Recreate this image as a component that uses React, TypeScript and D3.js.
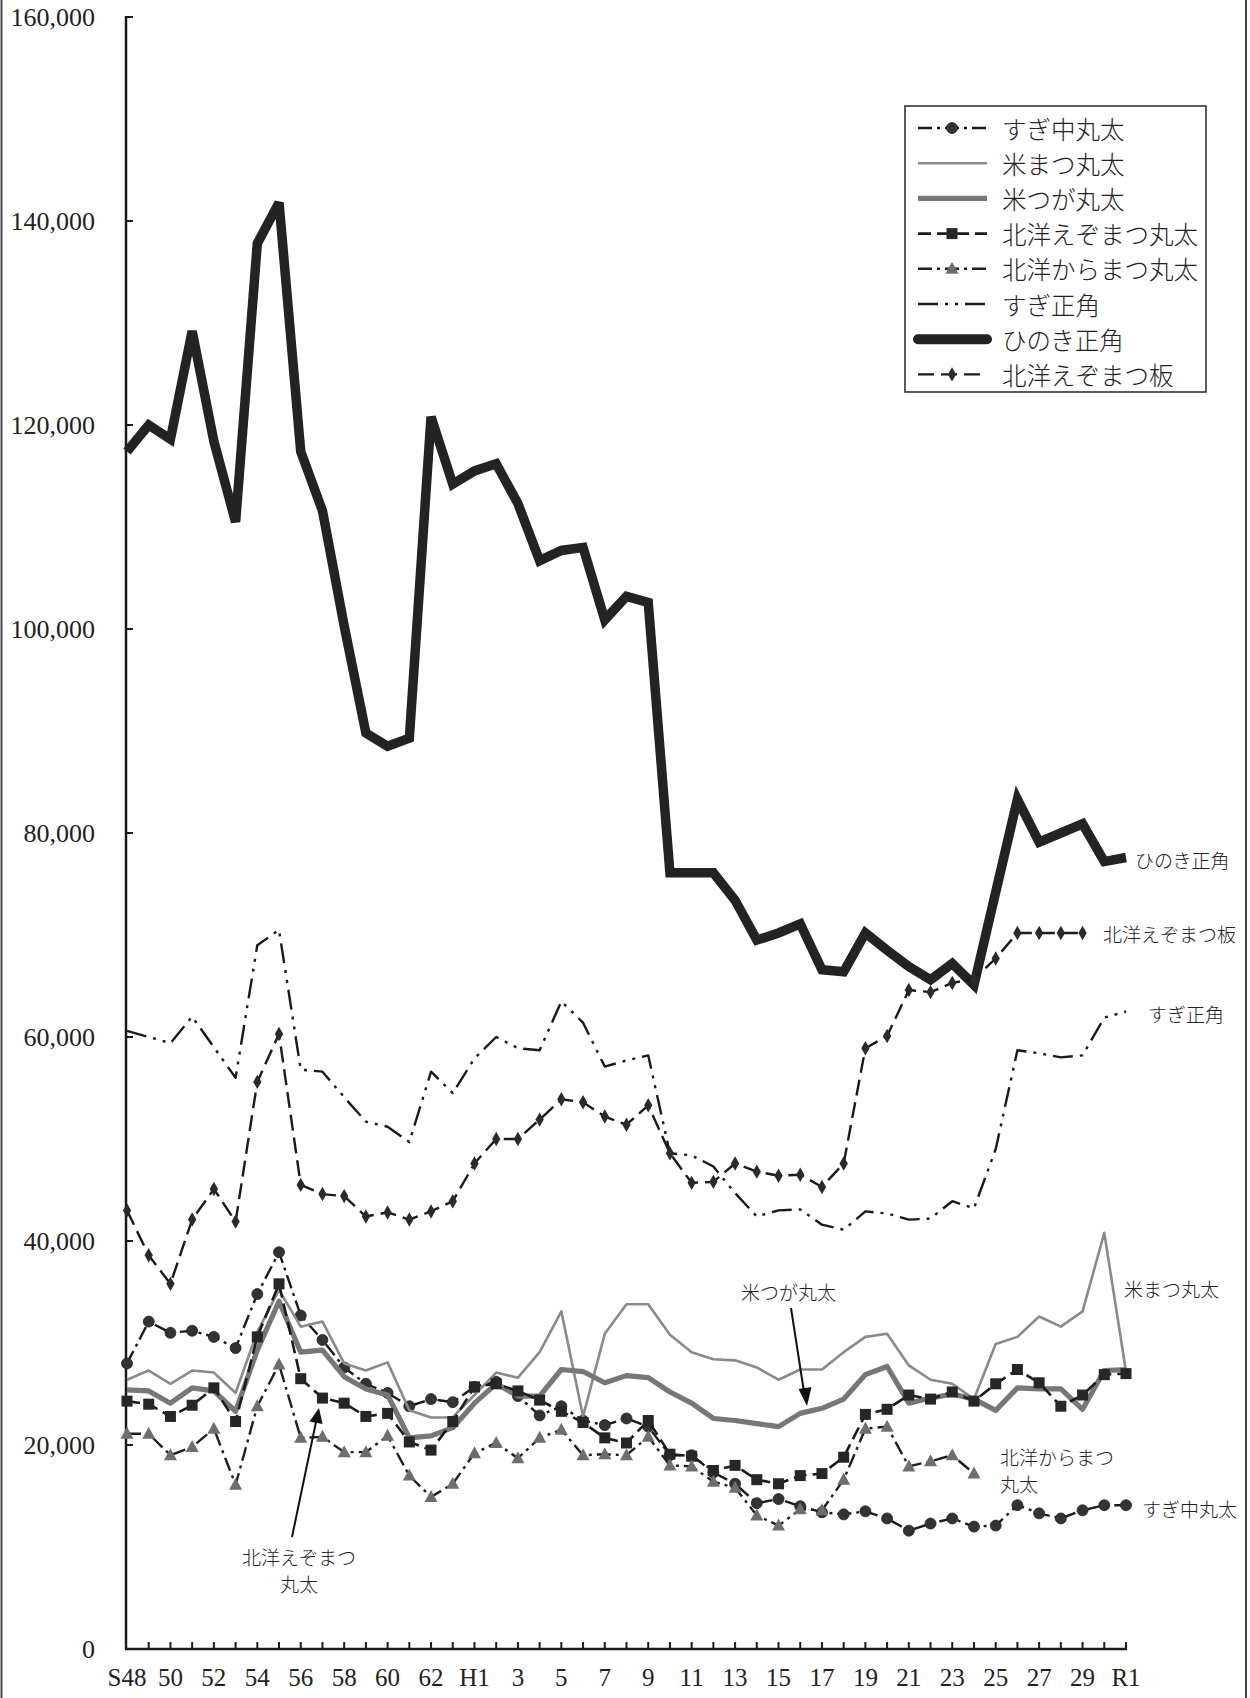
import React from 'react';
import * as d3 from 'd3';

// ---- categories (S48 = 1973 ... R1 = 2019) ----
const years: string[] = [
  'S48','S49','S50','S51','S52','S53','S54','S55','S56','S57','S58','S59','S60','S61','S62','S63',
  'H1','H2','H3','H4','H5','H6','H7','H8','H9','H10','H11','H12','H13','H14','H15','H16','H17','H18','H19','H20',
  'H21','H22','H23','H24','H25','H26','H27','H28','H29','H30','R1'
];
const tickLabels: string[] = ['S48','50','52','54','56','58','60','62','H1','3','5','7','9','11','13','15','17','19','21','23','25','27','29','R1'];
const yTicks: number[] = [0, 20000, 40000, 60000, 80000, 100000, 120000, 140000, 160000];

// ---- series values (円/m3) ----
const sugiMaru: (number | null)[] = [28000, 32100, 31000, 31200, 30600, 29500, 34800, 38900, 32700, 30300, 27600, 26000, 25100, 23800, 24500, 24200, 25700, 26200, 24800, 22900, 23800, 22400, 21950, 22600, 21800, 19000, 19000, 17300, 16200, 14300, 14700, 14000, 13400, 13200, 13500, 12800, 11600, 12300, 12800, 12000, 12100, 14100, 13300, 12800, 13600, 14100, 14100];
const beiMatsu: (number | null)[] = [26400, 27300, 26000, 27300, 27100, 25100, 31100, 35200, 31600, 32100, 28000, 27300, 28100, 23400, 22700, 22700, 24900, 27100, 26600, 29100, 33100, 22800, 30900, 33800, 33800, 30800, 29100, 28400, 28300, 27600, 26400, 27400, 27400, 29100, 30600, 30900, 27800, 26400, 26000, 24500, 29900, 30600, 32600, 31600, 33100, 40800, 27200];
const beiTsuga: (number | null)[] = [25400, 25300, 24100, 25600, 25300, 23300, 29300, 34100, 29100, 29300, 26700, 25500, 24900, 20700, 20900, 21700, 24100, 26000, 24800, 24800, 27400, 27200, 26100, 26800, 26600, 25200, 24100, 22600, 22400, 22100, 21800, 23100, 23600, 24500, 26900, 27700, 24100, 24600, 25000, 24500, 23400, 25600, 25500, 25500, 23500, 27300, 27400];
const ezoMaru: (number | null)[] = [24300, 24000, 22800, 23900, 25600, 22300, 30600, 35800, 26500, 24600, 24100, 22800, 23100, 20300, 19500, 22300, 25700, 26000, 25300, 24400, 23300, 22200, 20700, 20200, 22400, 19100, 18900, 17500, 18000, 16600, 16200, 17000, 17200, 18800, 23000, 23500, 24900, 24500, 25200, 24300, 26000, 27400, 26100, 23800, 24900, 26900, 27000];
const karaMaru: (number | null)[] = [21100, 21100, 19000, 19800, 21600, 16100, 23800, 27900, 20700, 20800, 19300, 19300, 20900, 17000, 14900, 16200, 19200, 20200, 18700, 20700, 21500, 19000, 19100, 19000, 20800, 18000, 17900, 16400, 15800, 13100, 12100, 13700, 13600, 16600, 21600, 21800, 17900, 18400, 19000, 17200, null, null, null, null, null, null, null];
const sugiKaku: (number | null)[] = [60600, 60000, 59400, 62000, 59000, 56000, 69000, 70500, 56800, 56600, 54100, 51700, 51200, 49700, 56600, 54500, 57900, 60000, 58900, 58700, 63500, 61400, 57100, 57700, 58200, 48600, 48400, 47300, 44700, 42400, 43000, 43100, 41600, 41100, 42900, 42700, 42100, 42200, 43900, 43200, 49000, 58700, 58400, 58000, 58200, 61900, 62500];
const hinokiKaku: (number | null)[] = [117400, 120000, 118600, 129200, 118400, 110500, 137800, 141800, 117400, 111600, 100300, 89800, 88500, 89300, 120800, 114200, 115500, 116200, 112300, 106700, 107700, 108000, 100900, 103200, 102600, 76100, 76100, 76100, 73400, 69500, 70200, 71100, 66600, 66400, 70200, 68500, 66900, 65600, 67200, 65100, 74200, 83300, 79100, 80000, 80900, 77200, 77600];
const ezoIta: (number | null)[] = [43000, 38600, 35800, 42100, 45100, 41900, 55600, 60300, 45500, 44600, 44400, 42400, 42800, 42100, 42900, 43900, 47600, 50000, 50000, 51900, 53900, 53600, 52200, 51400, 53300, 48600, 45700, 45800, 47600, 46800, 46400, 46500, 45300, 47600, 58900, 60100, 64600, 64400, 65300, 65700, 67700, 70200, 70200, 70200, 70200, null, null];

const seriesNames: string[] = ['すぎ中丸太', '米まつ丸太', '米つが丸太', '北洋えぞまつ丸太', '北洋からまつ丸太', 'すぎ正角', 'ひのき正角', '北洋えぞまつ板'];

type Marker = 'none' | 'circle' | 'square' | 'triangle' | 'diamond';
interface Series { name: string; data: (number | null)[]; stroke: string; width: number; dash?: string; marker: Marker; mfill: string; }

const series: Series[] = [
  { name: seriesNames[0], data: sugiMaru, stroke: '#1a1a1a', width: 2.4, dash: '14,5,3,5', marker: 'circle', mfill: '#333' },
  { name: seriesNames[1], data: beiMatsu, stroke: '#8a8a8a', width: 2.6, marker: 'none', mfill: '' },
  { name: seriesNames[2], data: beiTsuga, stroke: '#777', width: 5.2, marker: 'none', mfill: '' },
  { name: seriesNames[3], data: ezoMaru, stroke: '#1a1a1a', width: 2.6, dash: '13,6', marker: 'square', mfill: '#262626' },
  { name: seriesNames[4], data: karaMaru, stroke: '#1f1f1f', width: 2.4, dash: '14,5,3,5', marker: 'triangle', mfill: '#6e6e6e' },
  { name: seriesNames[5], data: sugiKaku, stroke: '#1a1a1a', width: 2.4, dash: '20,7,3,7,3,7', marker: 'none', mfill: '' },
  { name: seriesNames[6], data: hinokiKaku, stroke: '#232323', width: 9.5, marker: 'none', mfill: '' },
  { name: seriesNames[7], data: ezoIta, stroke: '#1a1a1a', width: 2.4, dash: '16,7', marker: 'diamond', mfill: '#2a2a2a' },
];

const serif = '"Liberation Serif", "DejaVu Serif", serif';
const jp = '"Noto Sans CJK JP", "Noto Sans", sans-serif';

function MarkerShape({ type, cx, cy, fill }: { type: Marker; cx: number; cy: number; fill: string }) {
  if (type === 'circle') return <circle cx={cx} cy={cy} r={5.5} fill={fill} stroke="#222" strokeWidth={0.8} />;
  if (type === 'square') return <rect x={cx - 5.5} y={cy - 5.5} width={11} height={11} fill={fill} />;
  if (type === 'triangle') return <path d={`M${cx},${cy - 7} L${cx + 6.5},${cy + 5} L${cx - 6.5},${cy + 5} Z`} fill={fill} />;
  if (type === 'diamond') return <path d={d3.symbol().type(d3.symbolDiamond).size(60)() as string} transform={`translate(${cx},${cy})`} fill={fill} />;
  return null;
}

export default function App() {
  const W = 1250, H = 1698;
  const x = d3.scaleLinear().domain([0, years.length - 1]).range([127, 1126]);
  const y = d3.scaleLinear().domain([0, 160000]).range([1649, 17]);
  const line = d3.line<number | null>()
    .defined(d => d != null)
    .x((_, i) => x(i))
    .y(d => y(d as number));

  const axisX0 = 126;
  const legendRowY = (k: number) => 128 + k * 35.2;

  return (
    <svg width={W} height={H} style={{ position: 'absolute', left: 0, top: 0, background: '#fff' }}>
      <rect x={0} y={0} width={W} height={H} fill="#fff" />
      {/* page frame lines */}
      <line x1={1.5} y1={0} x2={1.5} y2={H} stroke="#444" strokeWidth={2} />
      <line x1={1246} y1={0} x2={1246} y2={H} stroke="#444" strokeWidth={2} />

      {/* y axis */}
      <line x1={axisX0} y1={y(160000) - 1} x2={axisX0} y2={y(0)} stroke="#1a1a1a" strokeWidth={2.5} />
      {yTicks.map(v => (
        <g key={v}>
          <line x1={axisX0} x2={axisX0 + 7} y1={y(v)} y2={y(v)} stroke="#1a1a1a" strokeWidth={2} />
          <text x={95} y={y(v) + 9} textAnchor="end" fontFamily={serif} fontSize={26} fill="#222">{d3.format(',')(v)}</text>
        </g>
      ))}
      {/* x axis */}
      <line x1={axisX0 - 1} y1={y(0)} x2={x(years.length - 1) + 1} y2={y(0)} stroke="#1a1a1a" strokeWidth={2.5} />
      {years.map((yr, i) => i > 0 ? (
        <line key={yr} x1={x(i)} x2={x(i)} y1={y(0)} y2={y(0) - 7} stroke="#1a1a1a" strokeWidth={2} />
      ) : null)}
      {tickLabels.map((t, k) => (
        <text key={t + k} x={x(k * 2)} y={1686} textAnchor="middle" fontFamily={serif} fontSize={25} fill="#222">{t}</text>
      ))}

      {/* series */}
      {series.map(s => (
        <g key={s.name}>
          <path d={line(s.data) || ''} fill="none" stroke={s.stroke} strokeWidth={s.width}
            strokeDasharray={s.dash} strokeLinejoin={s.width > 6 ? 'miter' : 'round'} strokeMiterlimit={3} />
          {s.marker !== 'none' && s.data.map((v, i) => v == null ? null : (
            <MarkerShape key={i} type={s.marker} cx={x(i)} cy={y(v)} fill={s.mfill} />
          ))}
        </g>
      ))}

      {/* annotations */}
      <g fontFamily={jp} fontSize={19} fontWeight={300} fill="#222">
        <text x={1135} y={868}>ひのき正角</text>
        <text x={1103} y={942}>北洋えぞまつ板</text>
        <text x={1148} y={1022}>すぎ正角</text>
        <text x={1124} y={1297}>米まつ丸太</text>
        <text x={741} y={1300}>米つが丸太</text>
        <text x={1000} y={1465}>北洋からまつ</text>
        <text x={1000} y={1492}>丸太</text>
        <text x={1142} y={1517}>すぎ中丸太</text>
        <text x={299} y={1565} textAnchor="middle">北洋えぞまつ</text>
        <text x={299} y={1592} textAnchor="middle">丸太</text>
      </g>
      {/* arrows */}
      <line x1={791} y1={1308} x2={804} y2={1392} stroke="#111" strokeWidth={2} />
      <path d="M807,1406 L798.5,1389 L811.5,1387 Z" fill="#111" />
      <line x1={292} y1={1537} x2={316} y2={1422} stroke="#111" strokeWidth={2} />
      <path d="M319,1408 L322.5,1424 L309.5,1421.5 Z" fill="#111" />

      {/* legend */}
      <rect x={905} y={106} width={301} height={286} fill="#fff" stroke="#333" strokeWidth={1.6} />
      {series.map((s, k) => {
        const cy = legendRowY(k);
        return (
          <g key={'lg' + s.name}>
            <line x1={918} x2={987} y1={cy} y2={cy} stroke={s.stroke} strokeWidth={s.width > 6 ? 10 : s.width}
              strokeDasharray={s.dash} strokeLinecap={s.width > 6 ? 'round' : 'butt'} />
            {s.marker !== 'none' && <MarkerShape type={s.marker} cx={952} cy={cy} fill={s.mfill} />}
            <text x={1002} y={cy} dominantBaseline="central" fontFamily={jp} fontSize={24.5} fontWeight={300} fill="#222">{s.name}</text>
          </g>
        );
      })}
    </svg>
  );
}
